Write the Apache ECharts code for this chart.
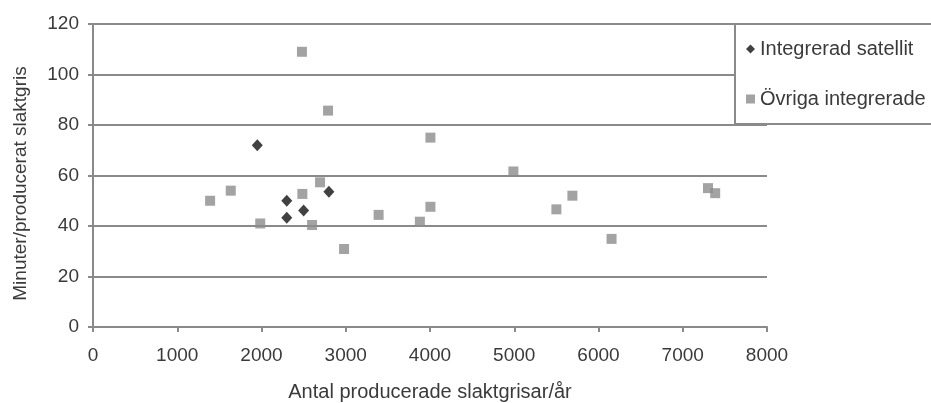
<!DOCTYPE html>
<html>
<head>
<meta charset="utf-8">
<script src="https://cdn.jsdelivr.net/npm/echarts@6/dist/echarts.min.js"></script>
<style>
html,body{margin:0;padding:0;background:#fff;}
#c{width:931px;height:403px;}
</style>
</head>
<body>
<div id="c"></div>
<script>
const seriesNames = ["Integrerad satellit", "Övriga integrerade"];
const satelliteX = [1950, 2300, 2300, 2500, 2800];
const satelliteY = [72, 50, 43.3, 46.1, 53.6];
const ovrigaX = [1390, 1635, 1985, 2480, 2485, 2600, 2695, 2790, 2980, 3390, 3880, 4005, 4005, 4990, 5500, 5690, 6155, 7300, 7385];
const ovrigaY = [50, 54, 41, 109, 52.7, 40.4, 57.3, 85.7, 30.9, 44.4, 41.7, 47.6, 75, 61.6, 46.6, 52, 34.9, 55, 53];
const xTicks = [0, 1000, 2000, 3000, 4000, 5000, 6000, 7000, 8000];
const yTicks = [0, 20, 40, 60, 80, 100, 120];
const xTitle = "Antal producerade slaktgrisar/år";
const yTitle = "Minuter/producerat slaktgris";

const pair = (xs, ys) => xs.map((x, i) => [x, ys[i]]);
const font = "Liberation Sans, Arial, sans-serif";
const textColor = '#3a3a3a';
const chart = echarts.init(document.getElementById('c'), null, {renderer: 'canvas'});
chart.setOption({
  backgroundColor: '#ffffff',
  animation: false,
  textStyle: {fontFamily: font},
  grid: {left: 93, right: 164, top: 24, bottom: 76, containLabel: false, outerBoundsMode: 'none'},
  legend: {
    orient: 'vertical',
    left: 735, top: 24,
    padding: [15, 60, 15, 11],
    itemGap: 30,
    itemWidth: 9, itemHeight: 9,
    backgroundColor: '#ffffff',
    borderColor: '#8a8a8a', borderWidth: 2,
    textStyle: {fontFamily: font, fontSize: 20, color: textColor},
    data: [
      {name: seriesNames[0], icon: 'diamond'},
      {name: seriesNames[1], icon: 'rect'}
    ]
  },
  xAxis: {
    type: 'value', min: xTicks[0], max: xTicks[xTicks.length - 1], interval: 1000,
    name: xTitle, nameLocation: 'middle', nameGap: 55,
    nameTextStyle: {fontFamily: font, fontSize: 20, color: textColor},
    axisLine: {show: true, lineStyle: {color: '#8a8a8a', width: 2}},
    axisTick: {show: true, length: 5, lineStyle: {color: '#8a8a8a', width: 2}},
    axisLabel: {fontFamily: font, fontSize: 19, color: textColor, margin: 19, formatter: v => String(v)},
    splitLine: {show: false}
  },
  yAxis: {
    type: 'value', min: yTicks[0], max: yTicks[yTicks.length - 1], interval: 20,
    name: yTitle, nameLocation: 'middle', nameGap: 63, nameRotate: 90,
    nameTextStyle: {fontFamily: font, fontSize: 19, color: textColor, padding: [0, 16, 0, 0]},
    axisLine: {show: true, lineStyle: {color: '#8a8a8a', width: 2}},
    axisTick: {show: true, length: 5, lineStyle: {color: '#8a8a8a', width: 2}},
    axisLabel: {fontFamily: font, fontSize: 19, color: textColor, margin: 14},
    splitLine: {show: true, lineStyle: {color: '#8a8a8a', width: 2}}
  },
  series: [
    {
      name: seriesNames[0], type: 'scatter', symbol: 'diamond', symbolSize: [11, 12],
      itemStyle: {color: '#111111'},
      data: pair(satelliteX, satelliteY), z: 3
    },
    {
      name: seriesNames[1], type: 'scatter', symbol: 'rect', symbolSize: 10,
      itemStyle: {color: '#8c8c8c'},
      data: pair(ovrigaX, ovrigaY), z: 2
    }
  ]
});
</script>
</body>
</html>
